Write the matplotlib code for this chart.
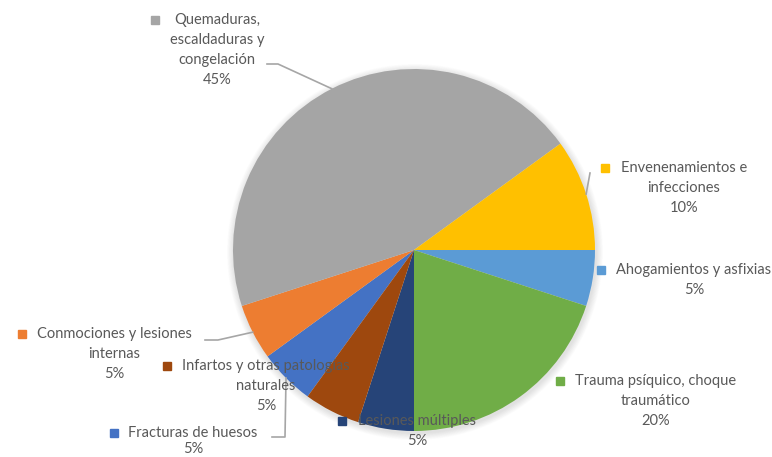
import numpy as np
import matplotlib
matplotlib.use("Agg")
import matplotlib.pyplot as plt

# Data (order as in the source sheet, drawn clockwise)
categories = [
    "Fracturas de huesos",
    "Conmociones y lesiones\ninternas",
    "Quemaduras,\nescaldaduras y\ncongelación",
    "Envenenamientos e\ninfecciones",
    "Ahogamientos y asfixias",
    "Trauma psíquico, choque\ntraumático",
    "Lesiones múltiples",
    "Infartos y otras patologías\nnaturales",
]
shares = [5, 5, 45, 10, 5, 20, 5, 5]
colors = ["#4472C4", "#ED7D31", "#A5A5A5", "#FFC000",
          "#5B9BD5", "#70AD47", "#264478", "#9E480E"]

W, H = 772, 457
_TEXT = "#595959"
_LINE = "#A6A6A6"

plt.rcParams["font.family"] = ["Lato", "DejaVu Sans"]

fig = plt.figure(figsize=(W / 100, H / 100), dpi=100)
ax = fig.add_axes([0, 0, 1, 1])

cx, cy, r = 414, H - 250, 181

# soft shadow behind the pie
for k in range(10):
    ax.add_patch(plt.Circle((cx + 1, cy - 2), r + 7 - k * 0.7,
                            color="black", alpha=0.012, lw=0, zorder=0))

wedges, _ = ax.pie(shares, colors=colors, startangle=234, counterclock=False,
                   center=(cx, cy), radius=r, frame=True,
                   wedgeprops=dict(linewidth=0))
ax.set_xlim(0, W)
ax.set_ylim(0, H)
ax.set_aspect("equal")
ax.axis("off")

# label layout: (text center x, first line y from top, line gap, marker x, leader path)
layout = [
    (193, 433, 16, 114, [(272, 437), (285, 437)]),
    (114, 334, 20, 22, [(205, 340), (218, 340)]),
    (217, 20, 20, 155, [(267, 64), (278, 64)]),
    (684, 168, 20, 605, [(590, 173)]),
    (694, 270, 20, 601, None),
    (656, 381, 20, 560, None),
    (417, 421, 20, 342, None),
    (266, 366, 20, 167, None),
]

for w, lab, val, col, (tx, ty, gap, mx, path) in zip(wedges, categories, shares,
                                                      colors, layout):
    lines = lab.split("\n") + [f"{val}%"]
    for i, ln in enumerate(lines):
        ax.text(tx, H - (ty + gap * i), ln, ha="center", va="center",
                fontsize=10.5, color=_TEXT, zorder=5)
    ax.plot([mx], [H - ty], marker="s", ms=6, color=col, mec=col, zorder=5)
    if path:
        mid = np.deg2rad((w.theta1 + w.theta2) / 2)
        ex, ey = cx + r * np.cos(mid), cy + r * np.sin(mid)
        xs = [p[0] for p in path] + [ex]
        ys = [H - p[1] for p in path] + [ey]
        ax.plot(xs, ys, color=_LINE, lw=1.2, zorder=1)

fig.savefig("out.png", dpi=100)
